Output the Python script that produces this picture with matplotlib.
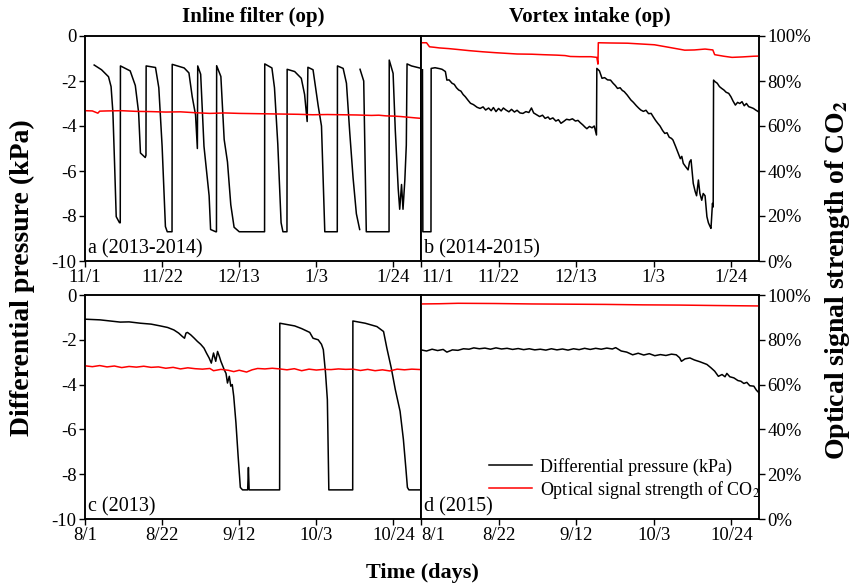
import numpy as np
import matplotlib
matplotlib.use('Agg')
import matplotlib.pyplot as plt

plt.rcParams['font.family'] = ['Liberation Serif', 'DejaVu Serif']
plt.rcParams['mathtext.fontset'] = 'stix'

nan = np.nan

# panel a - inline filter 2013-2014 (days since 11/1)
a_day = [2.5, 4.5, 6.4, 7.1, 7.6, 8.05, 8.5, 9.4, 9.6, 9.65, 12.3, 13.7, 14.6, 15.1, 16.4, 16.6, 16.65,
         19.2, 20.1, 21.0, 21.9, 22.4, 23.7, 23.75, 27.0, 28.3, 29.2, 30.1, 30.6, 30.7, 31.5, 32.4, 33.8,
         34.2, 35.6, 35.8, 35.85, 37.0, 37.9, 38.8, 39.7, 40.6, 42.0, 48.9, 48.95, 50.9, 51.6, 52.5, 53.4,
         53.9, 55.0, 55.05, 57.1, 58.9, 59.8, 60.5, 60.7, 62.1, 63.5, 64.4, 65.3, 68.7, 68.75, 70.3, 71.2,
         72.1, 73.0, 73.9, 74.8, 74.85, 74.9, 75.9, 76.6, 82.8, 82.85, 83.9, 84.5, 85.3, 85.7, 86.2, 86.6,
         87.1, 87.5, 87.7, 88.9, 91.6]
a_kpa = [-1.29, -1.5, -1.81, -2.25, -3.4, -5.66, -8.03, -8.3, -8.3, -1.33, -1.55, -2.2, -3.4, -5.2, -5.4, -5.3, -1.33,
         -1.4, -2.3, -4.9, -8.47, -8.7, -8.7, -1.26, -1.42, -1.64, -2.7, -3.5, -5.0, -1.33, -1.7, -4.9, -7.1,
         -8.6, -8.7, -8.7, -1.32, -1.8, -4.6, -5.6, -7.5, -8.5, -8.7, -8.7, -1.24, -1.42, -2.3, -4.8, -8.3,
         -8.7, -8.7, -1.48, -1.58, -1.88, -2.6, -3.8, -1.39, -1.5, -3.1, -4.0, -8.7, -8.7, -1.33, -1.44, -2.1,
         -4.3, -6.3, -7.9, -8.6, nan, -1.48, -2.0, -8.7, -8.7, -1.07, -1.66, -4.2, -6.8, -7.7, -6.6, -7.7,
         -6.4, -4.85, -1.24, -1.33, -1.44]
a_red_day = [0, 2, 3.5, 4, 6, 10, 14, 18, 22, 26, 30, 34, 38, 42, 46, 50, 54, 58, 62, 66, 70, 74, 78, 80,
             82, 84, 86, 88, 90, 91.5]
a_red = [66.8, 66.7, 65.7, 66.6, 66.7, 66.8, 66.5, 66.4, 66.2, 66.3, 65.9, 65.6, 65.8, 65.6, 65.5, 65.4,
         65.3, 65.2, 65.0, 65.1, 65.0, 64.9, 64.7, 64.8, 64.5, 64.4, 64.2, 63.9, 63.6, 63.4]

# panel b - vortex intake 2014-2015
b_day = [0.4, 0.5, 2.7, 2.75, 3.8, 5.0, 5.7, 6.6, 7.0, 7.6, 8.4, 9.0, 9.6, 10.2, 10.8, 11.4, 12.0, 12.7,
         13.4, 14.2, 15.2, 16.0, 16.8, 17.5, 18.3, 19.0, 19.6, 20.3, 21.0, 21.7, 22.3, 23.0, 23.8, 24.5,
         25.3, 26.0, 26.8, 27.6, 28.4, 29.2, 29.9, 30.5, 31.3, 32.1, 32.9, 33.6, 34.4, 34.9, 35.7, 36.5,
         37.2, 37.9, 38.6, 39.4, 40.2, 41.0, 41.8, 42.5, 43.1, 43.8, 44.4, 44.9, 45.6, 46.3, 46.9, 47.5,
         47.6, 48.3, 49.0, 49.7, 50.5, 51.3, 52.0, 52.6, 53.2, 53.9, 54.5, 55.0, 55.8, 56.4, 56.8, 57.5,
         58.3, 58.9, 59.5, 60.2, 60.9, 61.6, 62.3, 62.9, 63.5, 64.1, 64.7, 65.4, 66.0, 66.6, 67.2, 67.8,
         68.2, 68.9, 69.6, 70.2, 70.6, 71.0, 71.6, 72.3, 72.7, 73.1, 73.4, 73.7, 74.2, 74.6, 75.1, 75.5,
         76.0, 76.4, 76.9, 77.4, 77.8, 78.2, 78.5, 78.9, 79.1, 79.2, 79.6, 80.2, 80.8, 81.4, 82.0, 82.6,
         83.3, 83.9, 84.5, 85.1, 85.7, 86.3, 86.9, 87.5, 88.1, 88.7, 89.4, 90.0, 90.6, 91.2, 91.9]
b_kpa = [-1.5, -8.7, -8.7, -1.44, -1.41, -1.45, -1.48, -1.58, -1.96, -1.95, -2.1, -2.15, -2.3, -2.4, -2.45,
         -2.6, -2.7, -2.85, -2.99, -3.05, -3.17, -3.22, -3.15, -3.29, -3.2, -3.32, -3.18, -3.36, -3.22,
         -3.33, -3.2, -3.29, -3.37, -3.26, -3.38, -3.3, -3.42, -3.44, -3.36, -3.4, -3.2, -3.42, -3.5,
         -3.58, -3.52, -3.66, -3.6, -3.7, -3.64, -3.78, -3.72, -3.88, -3.8, -3.7, -3.73, -3.68, -3.78,
         -3.75, -3.85, -3.95, -4.05, -4.12, -4.02, -4.08, -4.0, -4.4, -1.44, -1.55, -1.88, -1.85, -1.95,
         -1.96, -2.1, -2.2, -2.33, -2.3, -2.42, -2.47, -2.62, -2.75, -2.84, -2.95, -3.1, -3.2, -3.29, -3.35,
         -3.3, -3.45, -3.44, -3.6, -3.75, -3.88, -4.0, -4.2, -4.33, -4.3, -4.5, -4.55, -4.62, -4.9, -5.2,
         -5.45, -5.35, -5.66, -5.8, -5.95, -5.6, -5.5, -6.0, -6.55, -6.9, -7.1, -6.4, -7.0, -7.3, -7.0,
         -7.1, -8.03, -8.3, -8.45, -8.55, -7.44, -7.6, -1.96, -2.03, -2.1, -2.25, -2.33, -2.4, -2.5, -2.55,
         -2.7, -2.9, -3.07, -2.95, -3.0, -2.92, -3.1, -3.0, -3.14, -3.18, -3.22, -3.29, -3.35, -3.44]
b_red_day = [0.3, 1.5, 2.3, 3.5, 5, 7.5, 10, 13, 16.6, 20, 23, 26, 30, 33, 36.7, 39, 40.4, 43, 46, 47.6,
             47.9, 48.0, 51, 55.9, 59, 63.2, 67, 71.4, 74, 76.9, 79, 79.5, 82, 84.2, 87, 90, 91.9]
b_red = [97.0, 97.0, 95.2, 95.0, 94.7, 94.4, 94.0, 93.5, 93.0, 92.6, 92.3, 92.0, 91.9, 91.7, 91.5, 91.3,
         90.9, 90.8, 90.8, 90.5, 87.5, 97.0, 96.9, 96.8, 96.5, 96.1, 95.0, 93.7, 93.8, 94.2, 93.8, 91.7,
         91.0, 90.5, 90.7, 91.0, 91.1]

# panel c - inline filter 2013 (days since 8/1)
c_day = [0, 4.1, 9.6, 12, 15.1, 18, 20.5, 22.5, 24.2, 25.5, 26.5, 27.1, 27.5, 27.9, 28.8, 29.7, 30.6,
         31.5, 32.4, 33.1, 33.8, 34.4, 35.0, 35.6, 36.1, 36.6, 37.0, 37.9, 38.4, 38.8, 39.3, 39.7, 40.1,
         40.5, 41.1, 41.7, 42.3, 42.9, 44.3, 44.5, 44.7, 53.0, 53.05, 57.1, 59, 61.2, 62.1, 63.5, 64.4,
         64.9, 65.5, 66.0, 66.4, 72.9, 72.95, 76.3, 79.5, 81.3, 82.2, 83.4, 84.5, 85.8, 86.7, 87.4, 87.8,
         88.2, 92]
c_kpa = [-1.08, -1.11, -1.21, -1.2, -1.26, -1.3, -1.38, -1.45, -1.56, -1.7, -1.85, -1.93, -1.7, -1.67,
         -1.78, -1.92, -2.07, -2.2, -2.37, -2.6, -2.81, -3.04, -2.59, -2.96, -2.52, -2.75, -2.96, -3.33,
         -3.5, -3.93, -3.63, -4.07, -4.0, -4.52, -5.7, -7.2, -8.59, -8.7, -8.7, -7.7, -8.7, -8.7, -1.26,
         -1.38, -1.5, -1.67, -1.93, -2.0, -2.2, -2.44, -3.48, -4.67, -8.7, -8.7, -1.16, -1.26, -1.41, -1.63,
         -2.37, -3.26, -4.22, -5.19, -6.44, -7.78, -8.59, -8.7, -8.7]
c_red_day = [0, 2, 4, 6, 8, 10, 12, 14, 16, 18, 20, 22, 24, 26, 28, 30, 32, 34, 35, 37, 39, 40.5, 42,
             44, 45.5, 47, 49, 51, 53, 55, 57, 59, 61, 63, 65, 67, 69, 71, 73, 75, 77, 79, 81, 83, 85,
             87, 89, 91.5]
c_red = [68.4, 68.0, 68.5, 67.9, 68.3, 67.6, 68.1, 67.8, 68.2, 67.7, 67.9, 67.3, 67.7, 67.0, 67.5, 67.1,
         66.9, 67.2, 66.2, 66.8, 66.4, 65.8, 66.4, 65.6, 66.6, 67.2, 67.0, 67.3, 67.0, 66.6, 67.1, 66.2,
         66.9, 66.5, 66.8, 66.7, 67.0, 66.8, 66.9, 66.3, 66.8, 66.2, 66.6, 66.1, 66.9, 66.6, 66.9, 66.7]

# panel d - vortex intake 2015
d_day = [0, 1.5, 3, 4.5, 6, 7, 8.5, 10, 11.5, 13, 14.3, 15.8, 17.3, 18.8, 20.3, 21.8, 23.3, 24.8, 26.3,
         27.8, 29.3, 30.8, 32.3, 33.8, 35.3, 36.8, 38.3, 39.8, 41.3, 42.8, 44.3, 45.8, 47.3, 48.8, 50.3,
         51.8, 52.7, 54.2, 55.7, 57.3, 58.8, 60.3, 61.8, 63.3, 64.8, 66.3, 67.8, 69.1, 70.0, 70.5, 71.5,
         72.8, 74, 75.5, 77.4, 78.5, 79.5, 80.5, 81.5, 82.3, 82.8, 83.6, 84.7, 85.8, 86.6, 87.4, 88.2,
         89.0, 90.1, 90.8, 91.4, 92]
d_kpa = [-2.45, -2.5, -2.42, -2.48, -2.43, -2.55, -2.45, -2.47, -2.4, -2.42, -2.36, -2.4, -2.37, -2.42,
         -2.36, -2.41, -2.38, -2.43, -2.39, -2.44, -2.4, -2.45, -2.42, -2.46, -2.4, -2.45, -2.41, -2.46,
         -2.4, -2.44, -2.38, -2.43, -2.38, -2.42, -2.37, -2.41, -2.35, -2.5, -2.55, -2.67, -2.6, -2.68,
         -2.62, -2.71, -2.66, -2.7, -2.64, -2.67, -2.8, -2.96, -2.85, -2.81, -2.9, -2.98, -3.1, -3.25,
         -3.4, -3.63, -3.55, -3.65, -3.5, -3.65, -3.7, -3.82, -3.85, -3.95, -3.9, -4.05, -4.07, -4.25,
         -4.35, -4.5]
d_red_day = [0, 5, 10, 20, 30, 40, 50, 60, 70, 80, 92]
d_red = [96.0, 96.1, 96.3, 96.2, 96.0, 95.9, 95.8, 95.6, 95.5, 95.3, 95.1]

top_ticks = ['11/1', '11/22', '12/13', '1/3', '1/24']
bottom_ticks = ['8/1', '8/22', '9/12', '10/3', '10/24']
tick_days = [0, 21, 42, 63, 84]
panel_names = ['a (2013-2014)', 'b (2014-2015)', 'c (2013)', 'd (2015)']

W, H = 852, 588
fig = plt.figure(figsize=(W / 100, H / 100), dpi=100)

x0, xm, x1 = 85, 421, 759
rows = [(36, 261), (295, 519)]
cols = [(x0, xm), (xm, x1)]

panels = [(a_day, a_kpa, a_red_day, a_red), (b_day, b_kpa, b_red_day, b_red),
          (c_day, c_kpa, c_red_day, c_red), (d_day, d_kpa, d_red_day, d_red)]

fs = 13.5
for i, (dd, kp, rd, rv) in enumerate(panels):
    r, c = divmod(i, 2)
    top, bot = rows[r]
    left, right = cols[c]
    ax = fig.add_axes([left / W, 1 - bot / H, (right - left) / W, (bot - top) / H])
    ax2 = ax.twinx()
    l1, = ax.plot(dd, kp, color='black', lw=1.1)
    l2, = ax2.plot(rd, rv, color='red', lw=1.1)
    ax.set_xlim(0, 91.5)
    ax.set_ylim(-10, 0)
    ax2.set_ylim(0, 100)
    ax.set_xticks(tick_days)
    ax.set_xticklabels(top_ticks if r == 0 else bottom_ticks, fontsize=fs)
    ax.tick_params(axis='x', direction='out', length=4, width=1, pad=2)
    if c == 1:
        # first date label of the right column sits just right of the shared border
        ax.get_xticklabels()[0].set_horizontalalignment('left')
    if c == 0:
        ax.set_yticks([0, -2, -4, -6, -8, -10])
        ax.set_yticklabels(['0', '-2', '-4', '-6', '-8', '-10'], fontsize=fs)
        ax.tick_params(axis='y', direction='out', length=4, width=1, pad=2)
        ax2.set_yticks([])
    else:
        ax.set_yticks([])
        ax2.set_yticks([0, 20, 40, 60, 80, 100])
        ax2.set_yticklabels(['0%', '20%', '40%', '60%', '80%', '100%'], fontsize=fs)
        ax2.tick_params(axis='y', direction='out', length=4, width=1, pad=2)
    for a in (ax, ax2):
        for s in a.spines.values():
            s.set_linewidth(1.1)
    ax.text(0.008, 0.012, panel_names[i], transform=ax.transAxes, fontsize=14.5,
            ha='left', va='bottom')
    if i == 3:
        ax.legend([l1, l2], ['Differential pressure (kPa)', 'Optical signal strength of CO$_2$'],
                  loc='upper left', bbox_to_anchor=(0.18, 0.305), frameon=False, fontsize=13,
                  handlelength=2.4, handletextpad=0.4, labelspacing=0.15, borderaxespad=0)

fig.text(253 / W, 1 - 17 / H, 'Inline filter (op)', fontsize=15, weight='bold', ha='center', va='center')
fig.text(590 / W, 1 - 17 / H, 'Vortex intake (op)', fontsize=15, weight='bold', ha='center', va='center')
fig.text(22 / W, 1 - 278 / H, 'Differential pressure (kPa)', fontsize=20, weight='bold',
         rotation=90, ha='center', va='center')
fig.text(837 / W, 1 - 280 / H, r'Optical signal strength of CO$_\mathbf{2}$', fontsize=20, weight='bold',
         rotation=90, ha='center', va='center')
fig.text(422 / W, 1 - 573 / H, 'Time (days)', fontsize=16, weight='bold', ha='center', va='center')

fig.savefig('out.png', dpi=100)
